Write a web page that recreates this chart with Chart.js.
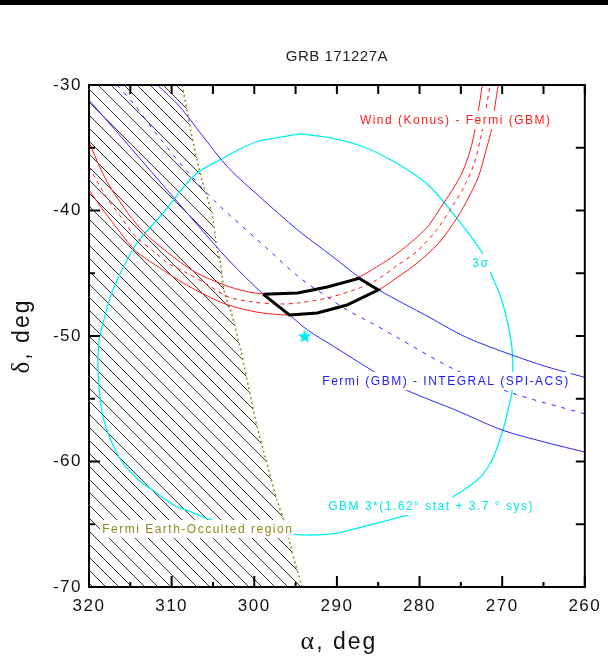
<!DOCTYPE html>
<html>
<head>
<meta charset="utf-8">
<title>GRB 171227A</title>
<script src="https://cdn.jsdelivr.net/npm/chart.js@4.4.1/dist/chart.umd.min.js"></script>
<style>
  html, body { margin: 0; padding: 0; background: #fff; }
  #wrap { width: 608px; height: 657px; }
</style>
</head>
<body>
<div id="wrap"><canvas id="chart" width="608" height="657"></canvas></div>
<script>
// axes (RA runs right to left)
const xTicks = [320, 310, 300, 290, 280, 270, 260];
const xMinor = [315, 305, 295, 285, 275, 265];
const yTicks = [-30, -40, -50, -60, -70];
const yMinor = [-35, -45, -55, -65];

// Wind (Konus) - Fermi (GBM) annulus, [ra, dec]
const konusInner = [[320, -34.54], [318.65, -36.61], [317.45, -38.13], [316.26, -39.3], [314.35, -41.0],
  [312.32, -42.35], [309.93, -43.63], [307.18, -44.9], [303.6, -45.94], [301.21, -46.41], [298.82, -46.65],
  [294.75, -46.57], [291.17, -46.1], [287.35, -45.3], [285.2, -44.5], [282.81, -43.47], [280.42, -42.19],
  [278.87, -41.16], [277.07, -39.4], [275.88, -38.21], [274.81, -36.93], [273.85, -35.18], [273.25, -33.43],
  [272.77, -31.59], [272.41, -30.0]];
const konusMid = [[320, -36.53], [317.93, -38.9], [316.26, -40.41], [314.35, -42.09], [312.08, -43.3],
  [310.41, -44.21], [308.1, -45.0], [305.98, -45.78], [303.12, -46.89], [300.13, -47.29], [297.14, -47.45],
  [294.75, -47.37], [291.17, -46.97], [287.59, -46.26], [285.2, -45.54], [282.81, -44.42], [280.42, -43.31],
  [278.03, -41.63], [276.0, -39.64], [274.57, -38.05], [273.37, -36.22], [272.53, -33.98], [271.94, -31.83],
  [271.46, -30.0]];
const konusOuter = [[320, -38.37], [318.65, -39.64], [316.26, -41.71], [314.35, -43.23], [311.96, -44.34],
  [308.38, -45.86], [304.43, -47.21], [301.92, -47.77], [298.94, -48.17], [295.71, -48.33], [292.37, -48.17],
  [288.78, -47.53], [284.96, -46.33], [282.81, -45.38], [280.42, -44.26], [277.67, -42.59], [275.4, -40.52],
  [274.09, -39.0], [272.89, -37.33], [272.05, -35.42], [271.22, -33.35], [270.85, -31.59], [270.49, -30.0]];

// Fermi (GBM) - INTEGRAL (SPI-ACS) annulus
const integralUpper = [[311.72, -30], [309.09, -31.67], [306.34, -33.98], [303.12, -36.61], [299.18, -39.0],
  [294.75, -41.55], [290.45, -43.71], [287.35, -45.3], [284.96, -46.33], [278.87, -48.49], [274.44, -50.08],
  [268.83, -51.51], [264.89, -52.39], [260, -53.3]];
const integralMid = [[316.61, -30], [314.47, -31.59], [312.2, -33.59], [308.49, -36.61], [304.43, -39.48],
  [299.18, -42.59], [294.75, -45.22], [291.17, -46.89], [288.78, -47.93], [285.8, -48.96], [282.81, -50.08],
  [275.64, -52.71], [268.83, -54.54], [260, -56.2]];
const integralLower = [[320, -31.2], [315.78, -34.38], [311.48, -37.65], [307.18, -40.92], [303.12, -43.94],
  [298.94, -46.65], [295.71, -48.33], [293.56, -49.52], [290.45, -50.8], [285.44, -52.87], [281.62, -54.3],
  [275.64, -55.9], [270.02, -57.49], [264.89, -58.45], [260, -59.25]];

// GBM 3 sigma region (closed)
const gbmContour = [[294.4, -33.9], [290.81, -34.22], [286.75, -34.94], [282.81, -36.22], [279.22, -37.81],
  [277.07, -39.32], [275.99, -40.2], [274.2, -41.71], [272.41, -43.39], [271.46, -44.9], [270.26, -46.73],
  [269.42, -48.73], [268.83, -50.88], [268.71, -52.95], [268.83, -54.54], [269.31, -55.9], [269.67, -56.93],
  [270.38, -58.45], [271.22, -59.88], [272.41, -61.08], [273.61, -61.79], [276.0, -62.83], [278.03, -63.47],
  [280.06, -64.02], [282.81, -64.5], [286.03, -65.06], [289.97, -65.7], [293.56, -65.86], [295.59, -65.78],
  [299.53, -65.54], [302.52, -65.22], [305.27, -64.66], [308.26, -63.86], [309.57, -63.55], [312.32, -62.27],
  [313.99, -61.47], [316.38, -59.64], [318.29, -56.45], [318.89, -52.95], [318.77, -50.32], [318.29, -48.96],
  [317.1, -46.33], [314.35, -42.75], [311.12, -40.28], [307.18, -37.17], [303.95, -35.9], [300.73, -34.78],
  [298.82, -34.38], [294.4, -33.9]];
const gbmPosition = [[293.9, -50.05]];

// Fermi Earth-occulted region boundary
const occultEdge = [[308.73, -30], [308.14, -31.99], [307.54, -34.14], [306.34, -37.57], [305.14, -40.2],
  [304.54, -42.91], [304.19, -43.78], [303.59, -46.57], [302.76, -48.17], [301.56, -51.35], [300.37, -55.1],
  [299.65, -57.25], [298.58, -59.88], [297.26, -63.07], [296.3, -64.9], [295.59, -66.81], [294.99, -68.25],
  [294.39, -69.6], [294.27, -70]];

// intersection box
const overlapBox = [[298.9, -46.68], [294.75, -46.57], [291.17, -46.1], [287.31, -45.4], [284.99, -46.33],
  [288.78, -47.53], [292.37, -48.17], [295.75, -48.33], [298.9, -46.68]];

// annotations: [text, ra of left edge, dec, colour]
const notes = [
  ['Wind (Konus) - Fermi (GBM)', 287.22, -32.79, '#ff1a1a'],
  ['3σ', 273.61, -44.18, '#00e5ee'],
  ['Fermi (GBM) - INTEGRAL (SPI-ACS)', 291.76, -53.59, '#1a1aff'],
  ['GBM 3*(1.62° stat + 3.7 ° sys)', 291.05, -63.55, '#00e5ee'],
  ['Fermi Earth-Occulted region', 318.41, -65.38, '#8c8c1e']
];

const pts = a => a.map(([x, y]) => ({ x, y }));
const SANS = "Arial, 'Liberation Sans', sans-serif";
const SERIF = "'Liberation Serif', 'DejaVu Serif', serif";

const canvas = document.getElementById('chart');

function hatch() {
  const s = 13;
  const t = document.createElement('canvas');
  t.width = s; t.height = s;
  const g = t.getContext('2d');
  g.strokeStyle = '#333';
  g.lineWidth = 1;
  g.beginPath();
  for (const k of [-s, 0, s]) {
    g.moveTo(k - 1, -1);
    g.lineTo(k + s + 1, s + 1);
  }
  g.stroke();
  return canvas.getContext('2d').createPattern(t, 'repeat');
}

function starIcon(r, color) {
  const c = document.createElement('canvas');
  c.width = c.height = 2 * r + 2;
  const g = c.getContext('2d');
  g.fillStyle = color;
  g.beginPath();
  for (let i = 0; i < 10; i++) {
    const a = -Math.PI / 2 + i * Math.PI / 5;
    const rr = i % 2 ? r * 0.45 : r;
    g.lineTo(r + 1 + rr * Math.cos(a), r + 1 + rr * Math.sin(a));
  }
  g.closePath();
  g.fill();
  return c;
}

function curve(data, color, extra) {
  return Object.assign({
    data: pts(data), showLine: true, borderColor: color, borderWidth: 1,
    pointRadius: 0, tension: 0.3, fill: false
  }, extra);
}

function mixed(ctx, parts, cx, y) {
  let total = 0;
  parts.forEach(p => { ctx.font = p[1]; total += ctx.measureText(p[0]).width; });
  let x = cx - total / 2;
  ctx.textAlign = 'left';
  parts.forEach(p => { ctx.font = p[1]; ctx.fillText(p[0], x, y); x += ctx.measureText(p[0]).width; });
}

const decorations = {
  id: 'decorations',
  beforeDraw(chart) {
    // old-style spaced digits on the axes
    chart.ctx.letterSpacing = '1.5px';
  },
  afterDatasetsDraw(chart) {
    const { ctx, scales: { x, y } } = chart;
    ctx.save();
    ctx.font = '12px ' + SANS;
    ctx.letterSpacing = '1.5px';
    ctx.textBaseline = 'middle';
    ctx.textAlign = 'left';
    notes.forEach(([text, ra, dec, color]) => {
      const px = x.getPixelForValue(ra), py = y.getPixelForValue(dec);
      const w = ctx.measureText(text).width;
      ctx.fillStyle = '#fff';
      ctx.fillRect(px - 2, py - 9, w + 3, 18);
      ctx.fillStyle = color;
      ctx.fillText(text, px, py + 1);
    });
    ctx.restore();
  },
  afterDraw(chart) {
    const { ctx, chartArea: { left, right, top, bottom }, scales: { x, y } } = chart;
    ctx.save();
    // top bar
    ctx.fillStyle = '#000';
    ctx.fillRect(0, 0, chart.width, 5);
    // frame and inward ticks
    ctx.strokeStyle = '#000';
    ctx.lineWidth = 2;
    ctx.strokeRect(left, top, right - left, bottom - top);
    ctx.beginPath();
    xTicks.concat(xMinor).forEach(v => {
      const p = x.getPixelForValue(v);
      const len = xTicks.includes(v) ? 11 : 5;
      ctx.moveTo(p, bottom); ctx.lineTo(p, bottom - len);
      ctx.moveTo(p, top); ctx.lineTo(p, top + 9);
    });
    yTicks.concat(yMinor).forEach(v => {
      const p = y.getPixelForValue(v);
      const len = yTicks.includes(v) ? 11 : 6;
      ctx.moveTo(left, p); ctx.lineTo(left + len, p);
      ctx.moveTo(right, p); ctx.lineTo(right - 9, p);
    });
    ctx.stroke();

    // title
    ctx.fillStyle = '#222';
    ctx.textBaseline = 'middle';
    ctx.textAlign = 'center';
    ctx.letterSpacing = '0.5px';
    ctx.font = '15px ' + SANS;
    ctx.fillText('GRB 171227A', (left + right) / 2, 57);

    // axis titles
    ctx.fillStyle = '#111';
    ctx.textBaseline = 'alphabetic';
    ctx.letterSpacing = '2px';
    const parts = [['α', '26px ' + SERIF], [', deg', '23px ' + SANS]];
    mixed(ctx, parts, (left + right) / 2 + 2, 649);
    ctx.translate(29, (top + bottom) / 2);
    ctx.rotate(-Math.PI / 2);
    mixed(ctx, [['δ', '25px ' + SERIF], [', deg', '23px ' + SANS]], 0, 0);
    ctx.restore();
  }
};

new Chart(canvas, {
  type: 'scatter',
  data: {
    datasets: [
      curve(gbmPosition, '#00e5ee', { showLine: false, pointRadius: 7, pointStyle: starIcon(7, '#00e8f0'), order: 1 }),
      curve(overlapBox, '#000', { borderWidth: 3, tension: 0, order: 2 }),
      curve(konusInner, '#ff1a1a', { order: 3 }),
      curve(konusMid, '#ff1a1a', { borderDash: [4, 4], order: 3 }),
      curve(konusOuter, '#ff1a1a', { order: 3 }),
      curve(integralUpper, '#2a2aff', { order: 4 }),
      curve(integralMid, '#2a2aff', { borderDash: [4, 6], order: 4 }),
      curve(integralLower, '#2a2aff', { order: 4 }),
      curve(gbmContour, '#00f0f0', { borderWidth: 1.3, tension: 0.35, order: 5 }),
      curve(occultEdge, '#8c8c1e', { borderWidth: 1.5, borderDash: [2, 3], tension: 0.2, order: 6 }),
      curve(occultEdge.concat([[320, -70], [320, -30]]), 'rgba(0,0,0,0)', {
        borderWidth: 0, tension: 0, fill: 'shape', backgroundColor: hatch(), order: 9
      })
    ]
  },
  options: {
    responsive: false,
    animation: false,
    events: [],
    layout: { padding: { top: 85, right: 17, left: 0, bottom: 0 } },
    plugins: { legend: { display: false }, tooltip: { enabled: false } },
    scales: {
      x: {
        type: 'linear', reverse: true, min: 260, max: 320,
        afterBuildTicks: s => { s.ticks = xTicks.map(v => ({ value: v })); },
        afterFit: s => { s.height = 70; },
        grid: { display: false, drawTicks: false },
        border: { display: false },
        ticks: { autoSkip: false, maxRotation: 0, padding: 9, color: '#111', font: { size: 17, family: SANS } }
      },
      y: {
        type: 'linear', min: -70, max: -30,
        afterBuildTicks: s => { s.ticks = yTicks.map(v => ({ value: v })); },
        afterFit: s => { s.width = 89; },
        grid: { display: false, drawTicks: false },
        border: { display: false },
        ticks: { autoSkip: false, padding: 7, color: '#111', font: { size: 17, family: SANS } }
      }
    }
  },
  plugins: [decorations]
});
</script>
</body>
</html>
